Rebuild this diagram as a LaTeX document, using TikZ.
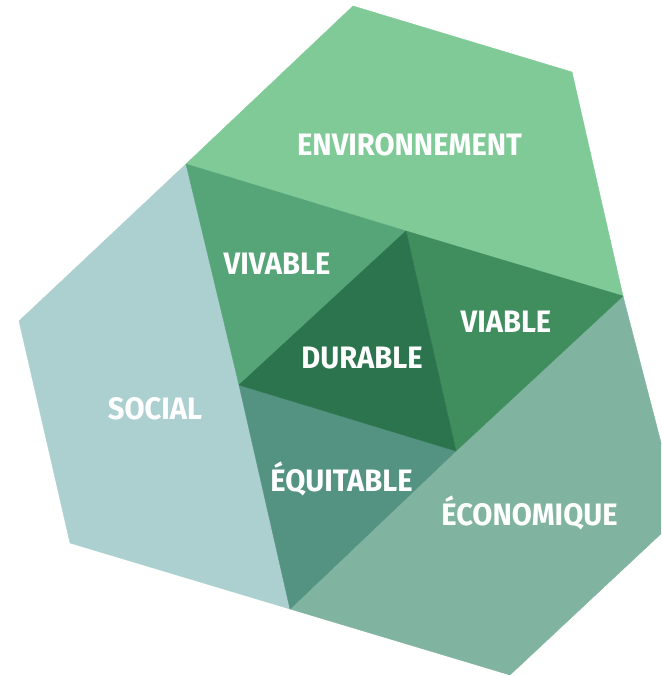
\documentclass[tikz,border=0pt]{standalone}
\usepackage{fontspec}
\setmainfont{Fira Sans}
\definecolor{envc}{HTML}{80CA98}
\definecolor{vivc}{HTML}{55A578}
\definecolor{durc}{HTML}{2C744D}
\definecolor{viac}{HTML}{408D5E}
\definecolor{equc}{HTML}{549282}
\definecolor{socc}{HTML}{ACD0D0}
\definecolor{ecoc}{HTML}{80B4A1}
\begin{document}
\begin{tikzpicture}[x=1pt,y=-1pt,
  face/.style={fill=#1,draw=#1,line width=0.4pt,line join=round},
  lbl/.style={text=white,font=\fontsize{31}{31}\bfseries\selectfont,inner sep=0pt,
    text height=21.4pt,text depth=0pt,xscale=0.94,transform shape,anchor=center}]
\useasboundingbox (0,0) rectangle (661,676);
\clip (0,0) rectangle (661,676);
% outer faces
\path[face=envc] (186,164) -- (353,6) -- (572,72) -- (623,296) -- (406,231) -- cycle;
\path[face=socc] (186,164) -- (239,385) -- (290,609) -- (70,543) -- (19,321) -- cycle;
\path[face=ecoc] (623,296) -- (680,516) -- (510,675) -- (290,609) -- (456,451) -- cycle;
% inner triangles
\path[face=vivc] (186,164) -- (406,231) -- (239,385) -- cycle;
\path[face=viac] (406,231) -- (623,296) -- (456,451) -- cycle;
\path[face=equc] (239,385) -- (456,451) -- (290,609) -- cycle;
\path[face=durc] (406,231) -- (239,385) -- (456,451) -- cycle;
% labels
\node[lbl] (env) at (409.5,145) {ENVIRONNEMENT};
\node[lbl] (viv) at (277,263.5) {VIVABLE};
\node[lbl] (via) at (506,321.5) {VIABLE};
\node[lbl] (dur) at (362,357.5) {DURABLE};
\node[lbl] (soc) at (155,408.5) {SOCIAL};
\node[lbl] (equ) at (341.5,481) {ÉQUITABLE};
\node[lbl] (eco) at (529.5,515) {ÉCONOMIQUE};
\end{tikzpicture}
\end{document}
